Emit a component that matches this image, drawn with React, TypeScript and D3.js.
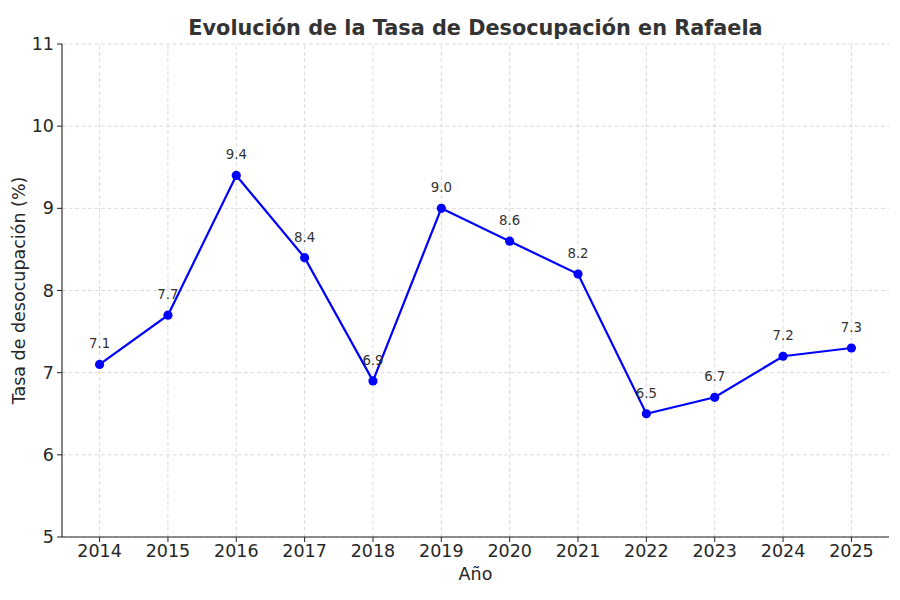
import React from 'react';
import * as d3 from 'd3';

const years: number[] = [2014, 2015, 2016, 2017, 2018, 2019, 2020, 2021, 2022, 2023, 2024, 2025];
const rates: number[] = [7.1, 7.7, 9.4, 8.4, 6.9, 9.0, 8.6, 8.2, 6.5, 6.7, 7.2, 7.3];
const yTicks: number[] = [5, 6, 7, 8, 9, 10, 11];

const width = 900;
const height = 600;
const margin = { top: 44, right: 11, bottom: 63, left: 62 };
const font = 'DejaVu Sans, sans-serif';

const App: React.FC = () => {
  const x = d3.scaleLinear()
    .domain([2014 - 0.55, 2025 + 0.55])
    .range([margin.left, width - margin.right]);
  const y = d3.scaleLinear()
    .domain([5, 11])
    .range([height - margin.bottom, margin.top]);

  const line = d3.line<number>()
    .x((_, i) => x(years[i]))
    .y(d => y(d));

  const x0 = margin.left;
  const x1 = width - margin.right;
  const y0 = height - margin.bottom;
  const y1 = margin.top;

  return (
    <svg width={width} height={height} style={{ position: 'absolute', left: 0, top: 0 }}>
      <rect width={width} height={height} fill="#fff" />
      {/* grid */}
      <g stroke="#d0d0d0" strokeWidth={0.8} strokeDasharray="4,2.5">
        {years.map(yr => (
          <line key={yr} x1={x(yr)} x2={x(yr)} y1={y0} y2={y1} />
        ))}
        {yTicks.map(t => (
          <line key={t} x1={x0} x2={x1} y1={y(t)} y2={y(t)} />
        ))}
      </g>
      {/* spines */}
      <line x1={x0} x2={x0} y1={y0} y2={y1} stroke="#222" strokeWidth={1.1} />
      <line x1={x0} x2={x1} y1={y0} y2={y0} stroke="#222" strokeWidth={1.1} />
      {/* ticks */}
      <g fontFamily={font} fontSize={17.5} fill="#262626">
        {years.map(yr => (
          <g key={yr}>
            <line x1={x(yr)} x2={x(yr)} y1={y0} y2={y0 + 5} stroke="#222" />
            <text x={x(yr)} y={y0 + 20} textAnchor="middle">{yr}</text>
          </g>
        ))}
        {yTicks.map(t => (
          <g key={t}>
            <line x1={x0 - 5} x2={x0} y1={y(t)} y2={y(t)} stroke="#222" />
            <text x={x0 - 8} y={y(t)} dy="0.35em" textAnchor="end">{t}</text>
          </g>
        ))}
      </g>
      {/* series */}
      <path d={line(rates) ?? ''} fill="none" stroke="#0000ff" strokeWidth={2.2} />
      {rates.map((v, i) => (
        <circle key={i} cx={x(years[i])} cy={y(v)} r={4.6} fill="#0000ff" />
      ))}
      <g fontFamily={font} fontSize={13.3} fill="#333" textAnchor="middle">
        {rates.map((v, i) => (
          <text key={i} x={x(years[i])} y={y(v) - 16}>{v.toFixed(1)}</text>
        ))}
      </g>
      {/* titles */}
      <text x={(x0 + x1) / 2} y={35} textAnchor="middle" fontFamily={font} fontSize={20.8} fontWeight="bold" fill="#333">
        Evolución de la Tasa de Desocupación en Rafaela
      </text>
      <text x={(x0 + x1) / 2} y={580} textAnchor="middle" fontFamily={font} fontSize={17.5} fill="#262626">Año</text>
      <text transform={`translate(25,${(y0 + y1) / 2}) rotate(-90)`} textAnchor="middle" fontFamily={font} fontSize={17.5} fill="#262626">
        Tasa de desocupación (%)
      </text>
    </svg>
  );
};

export default App;
